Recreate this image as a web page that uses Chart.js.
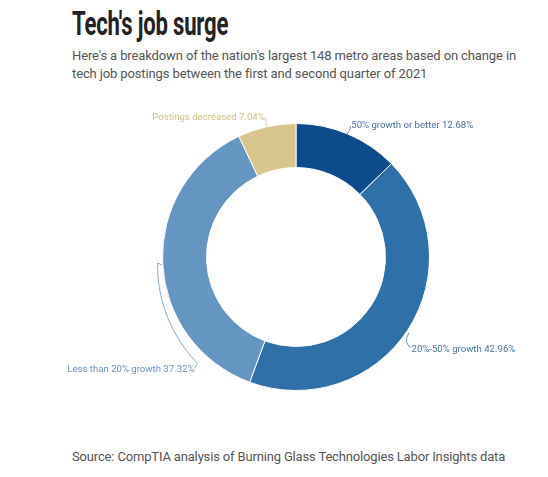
<!DOCTYPE html>
<html>
<head>
<meta charset="utf-8">
<script src="https://cdn.jsdelivr.net/npm/chart.js@4.4.1/dist/chart.umd.min.js"></script>
<style>
  html, body { margin: 0; padding: 0; background: #fff; }
  body { width: 548px; height: 477px; position: relative; overflow: hidden; font-family: Roboto, "Noto Sans", sans-serif; }
  .title { position: absolute; left: 72px; top: 4px; font-family: Roboto, sans-serif; font-weight: 700; font-size: 33px; color: #222;
           transform: scaleX(0.67); transform-origin: left top; white-space: nowrap; letter-spacing: -0.3px; }
  .subtitle { position: absolute; left: 72px; top: 47px; width: 460px; font-size: 13px; line-height: 18px; color: #555; letter-spacing: -0.12px; }
  .source { position: absolute; left: 72px; top: 449px; font-size: 13px; color: #555; white-space: nowrap; letter-spacing: -0.16px; }
  .wrap { position: absolute; left: 0; top: 92px; width: 548px; height: 330px; }
</style>
</head>
<body>
<div class="title">Tech's job surge</div>
<div class="subtitle">Here's a breakdown of the nation's largest 148 metro areas based on change in tech job postings between the first and second quarter of 2021</div>
<div class="wrap"><canvas id="surgeChart"></canvas></div>
<div class="source">Source: CompTIA analysis of Burning Glass Technologies Labor Insights data</div>
<script>
const categories = ["50% growth or better", "20%-50% growth", "Less than 20% growth", "Postings decreased"];
const shares = [12.68, 42.96, 37.32, 7.04];
const sliceColors = ["#0d4b8d", "#2f70a9", "#6595c1", "#d7c58c"];
const labelColors = ["#4a70a6", "#4675aa", "#6a92c0", "#d2bf82"];

// leader line style per slice
const leaders = [
    {type: "up"},
    {type: "down"},
    {type: "spiral", sweep: 22.5},
    {type: "upLeft"}
];

const labelPlugin = {
    id: "sliceLabels",
    afterDatasetsDraw(chart) {
        const ctx = chart.ctx;
        const meta = chart.getDatasetMeta(0);
        ctx.save();
        ctx.font = "9.6px Roboto, sans-serif";
        ctx.lineWidth = 0.8;
        ctx.textBaseline = "middle";
        meta.data.forEach((arc, i) => {
            const p = arc.getProps(["x", "y", "startAngle", "endAngle", "outerRadius"], true);
            const mid = (p.startAngle + p.endAngle) / 2;
            const R = p.outerRadius;
            const text = categories[i] + " " + shares[i].toFixed(2) + "%";
            const ex = p.x + R * Math.cos(mid), ey = p.y + R * Math.sin(mid);
            ctx.strokeStyle = labelColors[i];
            ctx.fillStyle = labelColors[i];
            ctx.beginPath();
            const kind = leaders[i].type;
            if (kind === "up") {
                ctx.moveTo(ex - 1, ey + 1);
                ctx.quadraticCurveTo(ex + 2, ey - 3, ex + 3, ey - 8);
                ctx.stroke();
                ctx.textAlign = "left";
                ctx.fillText(text, ex + 3.5, ey - 8);
            } else if (kind === "down") {
                ctx.moveTo(ex + 1, ey + 3);
                ctx.quadraticCurveTo(ex - 5, ey + 13, ex + 3, ey + 18);
                ctx.stroke();
                ctx.textAlign = "left";
                ctx.fillText(text, ex + 3.5, ey + 20);
            } else if (kind === "spiral") {
                const a1 = mid, a2 = p.startAngle + leaders[i].sweep * Math.PI / 180;
                const r1 = R + 5, r2 = R + 11.5;
                ctx.moveTo(p.x + (R + 2) * Math.cos(a1) + 1, p.y + (R + 2) * Math.sin(a1) + 2);
                const n = 40;
                let lx = 0, ly = 0;
                for (let k = 0; k <= n; k++) {
                    const t = k / n;
                    const a = a1 + (a2 - a1) * t;
                    const r = r1 + (r2 - r1) * t;
                    lx = p.x + r * Math.cos(a);
                    ly = p.y + r * Math.sin(a);
                    ctx.lineTo(lx, ly);
                }
                ctx.lineTo(lx - 3, ly + 5);
                ctx.stroke();
                ctx.textAlign = "right";
                ctx.fillText(text, lx - 3, ly + 6);
            } else {
                ctx.moveTo(ex, ey);
                ctx.quadraticCurveTo(ex - 1, ey - 4, ex - 1, ey - 9);
                ctx.stroke();
                ctx.textAlign = "right";
                ctx.fillText(text, ex - 2, ey - 9);
            }
        });
        ctx.restore();
    }
};

new Chart(document.getElementById("surgeChart"), {
    type: "doughnut",
    data: {
        labels: categories,
        datasets: [{
            data: shares,
            backgroundColor: sliceColors,
            borderColor: "#ffffff",
            borderWidth: 1,
            hoverOffset: 0
        }]
    },
    options: {
        responsive: true,
        maintainAspectRatio: false,
        animation: false,
        cutout: "67%",
        layout: {padding: {top: 31, bottom: 31, left: 150, right: 106}},
        plugins: {
            legend: {display: false},
            tooltip: {enabled: false}
        }
    },
    plugins: [labelPlugin]
});
</script>
</body>
</html>
